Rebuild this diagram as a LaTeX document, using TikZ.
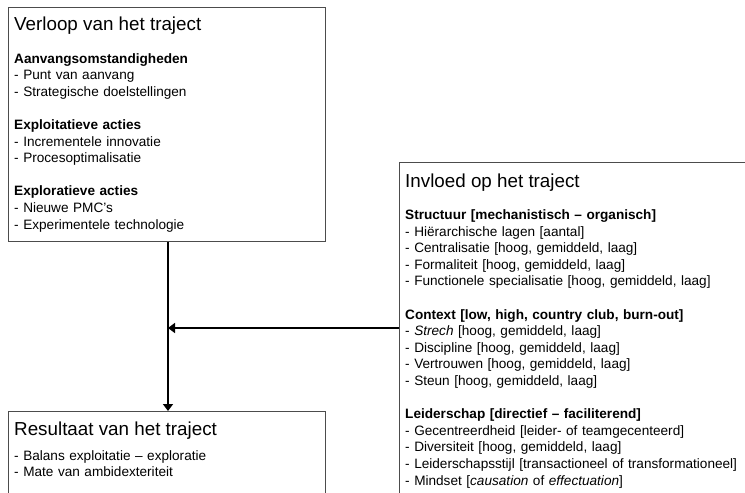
\documentclass[tikz,border=0pt]{standalone}
\usepackage{fontspec}
\setmainfont{Liberation Sans}
\usetikzlibrary{arrows.meta}
\tikzset{
  boxstyle/.style={draw=black!70, line width=1pt, fill=none, inner sep=0pt, anchor=north west},
  titletext/.style={anchor=base west, inner sep=0pt, font=\fontsize{18.8}{22}\selectfont},
  bodytext/.style={anchor=base west, inner sep=0pt, text width=345pt, align=left, font=\fontsize{13.6}{16.6}\selectfont},
  arr/.style={line width=2.4pt, -{Triangle[length=7pt,width=10pt]}}
}
\newcommand{\gapline}{\\[16.6pt]}
\begin{document}
\begin{tikzpicture}[x=1pt,y=-1pt]
\useasboundingbox (0,0) rectangle (745,493);
\clip (0,0) rectangle (745,493);
% boxes
\node[boxstyle, minimum width=317pt, minimum height=234pt] (topbox) at (8,7) {};
\node[boxstyle, minimum width=400pt, minimum height=400pt] (rbox) at (399,162) {};
\node[boxstyle, minimum width=317pt, minimum height=120pt] (botbox) at (8,411) {};
% texts top box
\node[titletext] (toptitle) at (14,30) {Verloop van het traject};
\node[bodytext] (topbody) at (14,63) {\textbf{Aanvangsomstandigheden}\\
- Punt van aanvang\\
- Strategische doelstellingen\gapline
\textbf{Exploitatieve acties}\\
- Incrementele innovatie\\
- Procesoptimalisatie\gapline
\textbf{Exploratieve acties}\\
- Nieuwe PMC’s\\
- Experimentele technologie};
% texts right box
\node[titletext] (rtitle) at (405,187) {Invloed op het traject};
\node[bodytext] (rbody) at (405,219.5) {\textbf{Structuur [mechanistisch – organisch]}\\
- Hiërarchische lagen [aantal]\\
- Centralisatie [hoog, gemiddeld, laag]\\
- Formaliteit [hoog, gemiddeld, laag]\\
- Functionele specialisatie [hoog, gemiddeld, laag]\gapline
\textbf{Context [low, high, country club, burn-out]}\\
- \textit{Strech} [hoog, gemiddeld, laag]\\
- Discipline [hoog, gemiddeld, laag]\\
- Vertrouwen [hoog, gemiddeld, laag]\\
- Steun [hoog, gemiddeld, laag]\gapline
\textbf{Leiderschap [directief – faciliterend]}\\
- Gecentreerdheid [leider- of teamgecenteerd]\\
- Diversiteit [hoog, gemiddeld, laag]\\
- Leiderschapsstijl [transactioneel of transformationeel]\\
- Mindset [\textit{causation} of \textit{effectuation}]};
% texts bottom box
\node[titletext] (bottitle) at (14,435) {Resultaat van het traject};
\node[bodytext] (botbody) at (14,460) {- Balans exploitatie – exploratie\\
- Mate van ambidexteriteit};
% connectors
\coordinate (join) at (168,328);
\draw[arr] (topbox.south -| join) -- (botbox.north -| join);
\draw[arr] (rbox.west |- join) -- (join);
\end{tikzpicture}
\end{document}
